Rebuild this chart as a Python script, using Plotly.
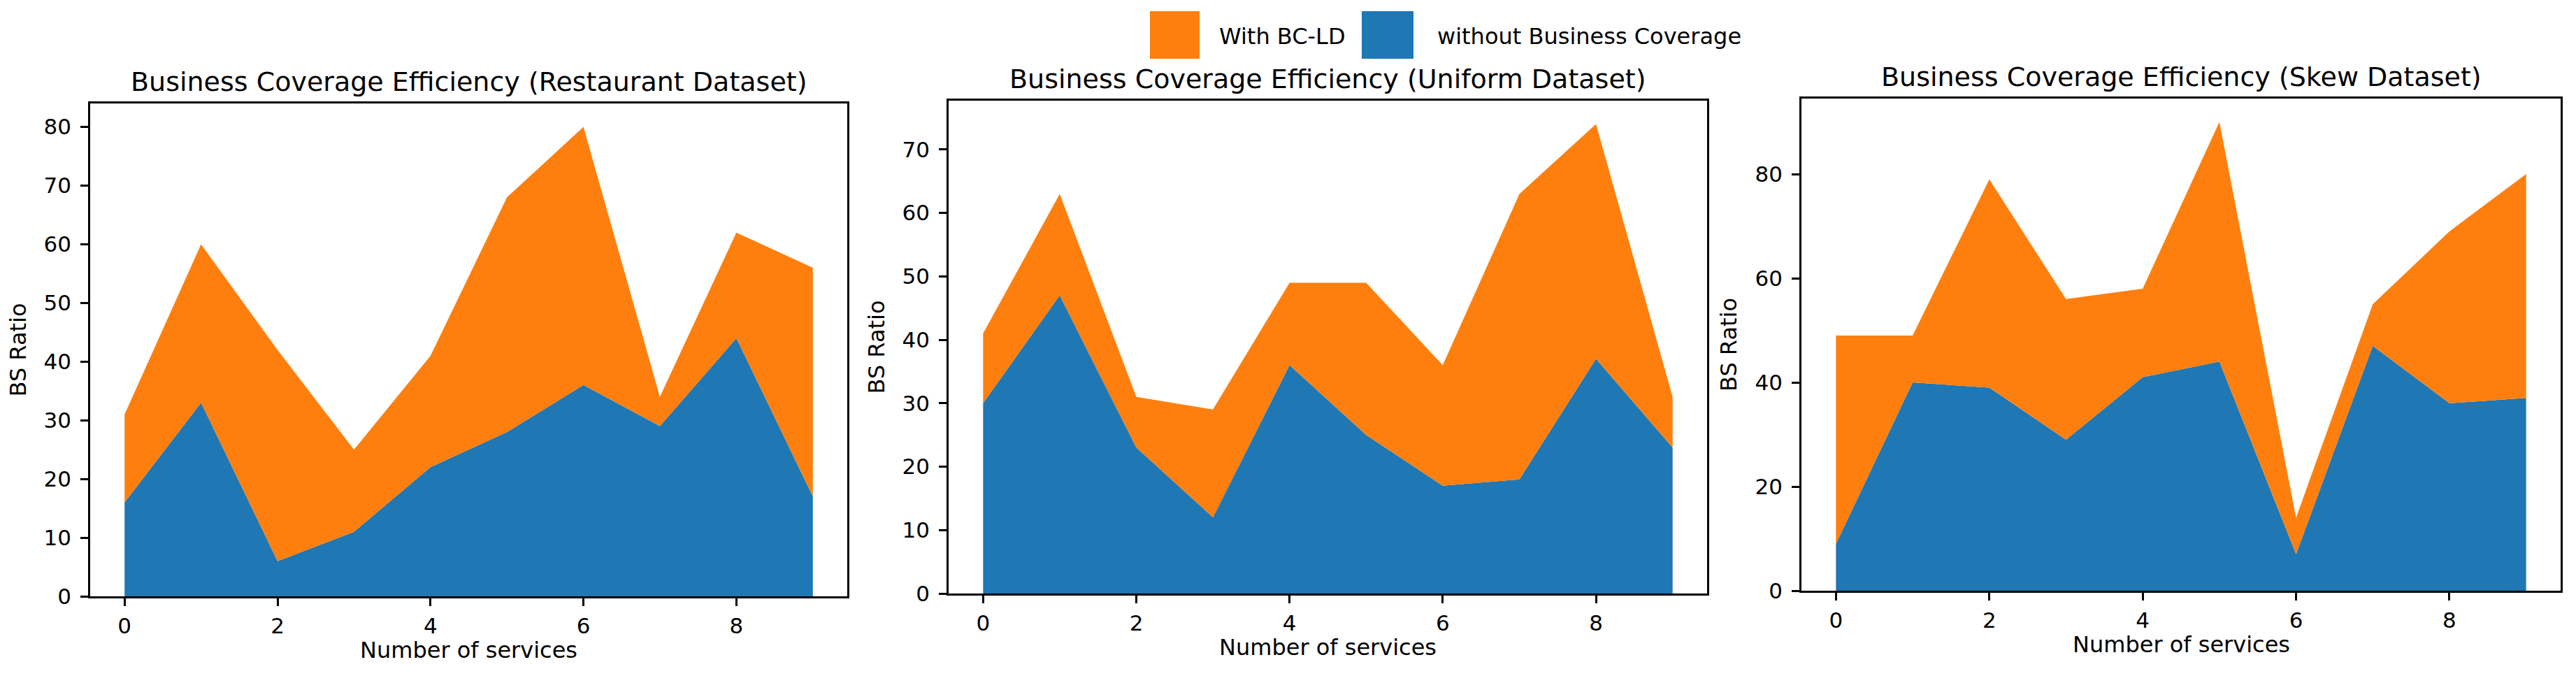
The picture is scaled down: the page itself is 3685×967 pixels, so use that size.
import plotly.graph_objects as go

W, H = 3685, 967

services = list(range(10))

restaurant_without = [16, 33, 6, 11, 22, 28, 36, 29, 44, 17]
restaurant_with = [31, 60, 42, 25, 41, 68, 80, 34, 62, 56]

uniform_without = [30, 47, 23, 12, 36, 25, 17, 18, 37, 23]
uniform_with = [41, 63, 31, 29, 49, 49, 36, 63, 74, 31]

skew_without = [9, 40, 39, 29, 41, 44, 7, 47, 36, 37]
skew_with = [49, 49, 79, 56, 58, 90, 14, 55, 69, 80]

titles = [
    "Business Coverage Efficiency (Restaurant Dataset)",
    "Business Coverage Efficiency (Uniform Dataset)",
    "Business Coverage Efficiency (Skew Dataset)",
]
legend_labels = ["With BC-LD", "without Business Coverage"]

BLUE = "#1f77b4"
ORANGE = "#ff7f0e"
FONT = "DejaVu Sans"

# panel boxes in pixels: left, right, top, bottom
boxes = [(129, 1212, 148, 853), (1357, 2442, 144, 849), (2577, 3663, 141, 845)]
ymax = [84, 77.7, 94.5]
ydtick = [10, 10, 20]

datasets = [
    (restaurant_without, restaurant_with),
    (uniform_without, uniform_with),
    (skew_without, skew_with),
]

fig = go.Figure()
annotations = []
shapes = []

for i, ((wo, wi), (l, r, t, b)) in enumerate(zip(datasets, boxes)):
    sfx = "" if i == 0 else str(i + 1)
    xa = "x" + sfx
    ya = "y" + sfx
    fig.add_trace(go.Scatter(x=services, y=wo, mode="lines", fill="tozeroy",
                             fillcolor=BLUE, line=dict(width=0, color=BLUE),
                             name=legend_labels[1], showlegend=False,
                             xaxis=xa, yaxis=ya))
    fig.add_trace(go.Scatter(x=services, y=wi, mode="lines", fill="tonexty",
                             fillcolor=ORANGE, line=dict(width=0, color=ORANGE),
                             name=legend_labels[0], showlegend=False,
                             xaxis=xa, yaxis=ya))
    axis_common = dict(showgrid=False, zeroline=False, showline=True,
                       linecolor="black", linewidth=2.5, mirror=True,
                       ticks="outside", ticklen=11, tickwidth=2.5,
                       tickcolor="black", automargin=False,
                       tickfont=dict(family=FONT, size=31, color="black"))
    fig.update_layout(**{
        "xaxis" + sfx: dict(domain=[l / W, r / W], anchor=ya,
                            range=[-0.45, 9.45], tickmode="array",
                            tickvals=[0, 2, 4, 6, 8], ticklabelstandoff=2,
                            **axis_common),
        "yaxis" + sfx: dict(domain=[1 - b / H, 1 - t / H], anchor=xa,
                            range=[0, ymax[i]], dtick=ydtick[i], tick0=0,
                            ticklabelstandoff=7, **axis_common),
    })
    cx = (l + r) / 2 / W
    annotations.append(dict(text=titles[i], xref="paper", yref="paper",
                            x=cx, y=1 - (t - 31) / H, xanchor="center",
                            yanchor="middle", showarrow=False,
                            font=dict(family=FONT, size=38, color="black")))
    annotations.append(dict(text="Number of services", xref="paper", yref="paper",
                            x=cx, y=1 - (b + 77) / H, xanchor="center",
                            yanchor="middle", showarrow=False,
                            font=dict(family=FONT, size=32, color="black")))
    annotations.append(dict(text="BS Ratio", xref="paper", yref="paper",
                            x=(l - 104) / W, y=1 - (t + b) / 2 / H,
                            xanchor="center", yanchor="middle", textangle=-90,
                            showarrow=False,
                            font=dict(family=FONT, size=32, color="black")))

# legend (patches + labels)
leg = [(1645, 1716, ORANGE, 1742, legend_labels[0]),
       (1948, 2022, BLUE, 2054, legend_labels[1])]
for x0, x1, col, tx, lab in leg:
    shapes.append(dict(type="rect", xref="paper", yref="paper",
                       x0=x0 / W, x1=x1 / W, y0=1 - 84 / H, y1=1 - 16 / H,
                       fillcolor=col, line=dict(width=0)))
    annotations.append(dict(text=lab, xref="paper", yref="paper",
                            x=tx / W, y=1 - 52 / H, xanchor="left",
                            yanchor="middle", showarrow=False,
                            font=dict(family=FONT, size=32, color="black")))

fig.update_layout(width=W, height=H, margin=dict(l=0, r=0, t=0, b=0),
                  template="none",
                  paper_bgcolor="white", plot_bgcolor="white",
                  showlegend=False, annotations=annotations, shapes=shapes,
                  font=dict(family=FONT))

fig.write_html("out.html",
               config={"displayModeBar": False},
               post_script="document.body.style.margin='0';document.body.style.overflow='hidden';")
